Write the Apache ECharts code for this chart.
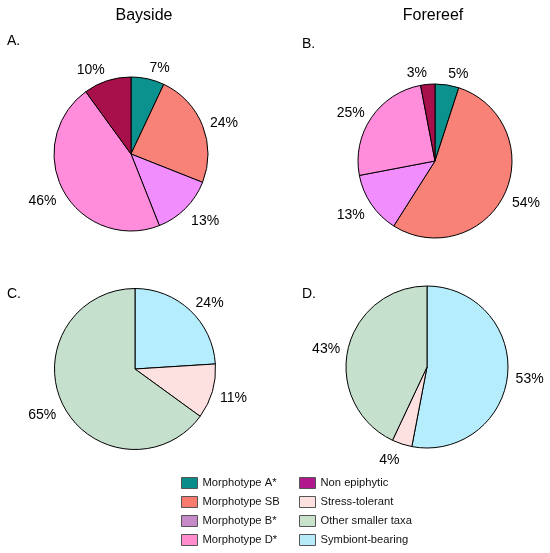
<!DOCTYPE html>
<html><head><meta charset="utf-8">
<script src="https://cdn.jsdelivr.net/npm/echarts@6/dist/echarts.min.js"></script>
<style>html,body{margin:0;padding:0;background:#fff}#c{width:550px;height:553px}</style>
</head><body><div id="c"></div>
<script>
var groupsAB = ['Morphotype A*', 'Morphotype SB', 'Morphotype B*', 'Morphotype D*', 'Non epiphytic'];
var groupsCD = ['Symbiont-bearing', 'Stress-tolerant', 'Other smaller taxa'];
var baysideA = [7, 24, 13, 46, 10];
var forereefB = [5, 54, 13, 25, 3];
var baysideC = [24, 11, 65];
var forereefD = [53, 4, 43];
var colorsAB = ['#0b918e', '#f98278', '#f28dfd', '#ff8ddc', '#a8104c'];
var colorsCD = ['#b5edfc', '#fde0e0', '#c6e0ce'];
var legendLeft = ['Morphotype A*', 'Morphotype SB', 'Morphotype B*', 'Morphotype D*'];
var legendRight = ['Non epiphytic', 'Stress-tolerant', 'Other smaller taxa', 'Symbiont-bearing'];
var legendColors = {
  'Morphotype A*': '#0a8c8a', 'Morphotype SB': '#f87b70', 'Morphotype B*': '#c68ac8', 'Morphotype D*': '#ff8ccc',
  'Non epiphytic': '#b0188c', 'Stress-tolerant': '#fde0e0', 'Other smaller taxa': '#c8e2cc', 'Symbiont-bearing': '#b5ecf8'
};

var font = 'Liberation Sans, Arial, sans-serif';
function mk(names, vals, cols) {
  return names.map(function (n, i) { return { name: n, value: vals[i], itemStyle: { color: cols[i] } }; });
}
function pie(center, r, data) {
  return {
    type: 'pie', center: center, radius: r, startAngle: 90, clockwise: true,
    avoidLabelOverlap: false, animation: false, silent: true,
    itemStyle: { borderColor: '#000', borderWidth: 1 },
    label: { show: true, position: 'outside', formatter: '{c}%', color: '#000', fontSize: 14, fontFamily: font, distanceToLabelLine: 0 },
    labelLine: { show: false, length: 8, length2: 0 },
    labelLayout: function (p) {
      var cyLabel = p.labelRect.y + p.labelRect.height / 2;
      return { dy: (cyLabel - center[1]) * 0.07 + 3 };
    },
    emphasis: { disabled: true },
    data: data
  };
}
function legendData(list) {
  return list.map(function (n) { return { name: n, icon: 'rect', itemStyle: { color: legendColors[n], borderColor: '#555', borderWidth: 1 } }; });
}
var chart = echarts.init(document.getElementById('c'));
chart.setOption({
  animation: false,
  title: [
    { text: 'Bayside', left: 139, top: 3, textAlign: 'center', textStyle: { fontSize: 16, fontWeight: 'normal', color: '#000', fontFamily: font } },
    { text: 'Forereef', left: 428, top: 3, textAlign: 'center', textStyle: { fontSize: 16, fontWeight: 'normal', color: '#000', fontFamily: font } },
    { text: 'A.', left: 2, top: 29, textStyle: { fontSize: 14, fontWeight: 'normal', color: '#000', fontFamily: font } },
    { text: 'B.', left: 297, top: 32, textStyle: { fontSize: 14, fontWeight: 'normal', color: '#000', fontFamily: font } },
    { text: 'C.', left: 2, top: 282, textStyle: { fontSize: 14, fontWeight: 'normal', color: '#000', fontFamily: font } },
    { text: 'D.', left: 297, top: 282, textStyle: { fontSize: 14, fontWeight: 'normal', color: '#000', fontFamily: font } }
  ],
  legend: [
    { orient: 'vertical', left: 181, top: 476, padding: 0, itemWidth: 16, itemHeight: 11, itemGap: 5, selectedMode: false,
      textStyle: { fontSize: 11.2, color: '#111', fontFamily: font, lineHeight: 14 }, data: legendData(legendLeft) },
    { orient: 'vertical', left: 299, top: 476, padding: 0, itemWidth: 16, itemHeight: 11, itemGap: 5, selectedMode: false,
      textStyle: { fontSize: 11.2, color: '#111', fontFamily: font, lineHeight: 14 }, data: legendData(legendRight) }
  ],
  series: [
    pie([131, 154], 77, mk(groupsAB, baysideA, colorsAB)),
    pie([435, 161], 77, mk(groupsAB, forereefB, colorsAB)),
    pie([135, 369], 80.5, mk(groupsCD, baysideC, colorsCD)),
    pie([427, 367], 81, mk(groupsCD, forereefD, colorsCD))
  ]
});
</script>
</body></html>
